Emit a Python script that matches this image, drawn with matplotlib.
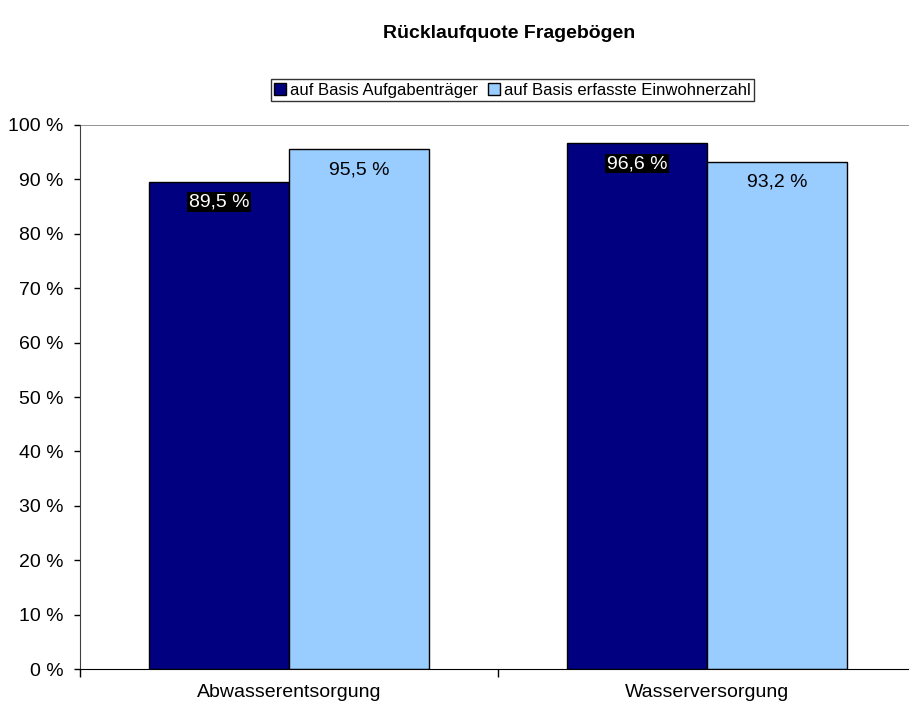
import matplotlib.pyplot as plt
from matplotlib.patches import Patch

# Daten
kategorien = ['Abwasserentsorgung', 'Wasserversorgung']
serien = ['auf Basis Aufgabenträger', 'auf Basis erfasste Einwohnerzahl']
aufgabentraeger = [89.5, 96.6]
einwohnerzahl = [95.5, 93.2]
y_ticks = [0, 10, 20, 30, 40, 50, 60, 70, 80, 90, 100]

plt.rcParams['font.family'] = ['Liberation Sans', 'DejaVu Sans']

dunkel = '#000080'
hell = '#99ccff'

fig = plt.figure(figsize=(9.09, 7.09), dpi=100)
ax = fig.add_axes([0.088, 0.0564, 0.9197, 0.7673])

breite = 0.335
mitten = [0.5, 1.5]
x1 = [m - breite / 2 for m in mitten]
x2 = [m + breite / 2 for m in mitten]

ax.bar(x1, aufgabentraeger, width=breite, color=dunkel, edgecolor='black', linewidth=1)
ax.bar(x2, einwohnerzahl, width=breite, color=hell, edgecolor='black', linewidth=1)

# Werte beschriften
for x, v in zip(x1, aufgabentraeger):
    ax.text(x, v - 3.7, f'{v:.1f} %'.replace('.', ','), ha='center', va='center',
            color='white', fontsize=14,
            bbox=dict(facecolor='black', edgecolor='none', pad=1))
for x, v in zip(x2, einwohnerzahl):
    ax.text(x, v - 3.7, f'{v:.1f} %'.replace('.', ','), ha='center', va='center',
            color='black', fontsize=14)

ax.set_xlim(0, 2)
ax.set_ylim(0, 100)
ax.set_yticks(y_ticks)
ax.set_yticklabels([f'{t} %' for t in y_ticks], fontsize=14)
ax.tick_params(axis='y', direction='out', length=4, width=1, pad=8)

ax.set_xticks(mitten)
ax.set_xticklabels(kategorien, fontsize=14)
ax.set_xticks([0, 1, 2], minor=True)
ax.tick_params(axis='x', which='major', length=0, pad=11)
ax.tick_params(axis='x', which='minor', direction='out', length=6, width=1)

ax.spines['top'].set_visible(False)
ax.spines['right'].set_visible(False)
ax.spines['left'].set_color('#404040')
ax.spines['bottom'].set_color('black')
ax.axhline(100, color='#808080', linewidth=1.2, zorder=0)

fig.text(0.560, 0.953, 'Rücklaufquote Fragebögen', ha='center', va='center',
         fontsize=14, fontweight='bold')

handles = [Patch(facecolor=dunkel, edgecolor='black'),
           Patch(facecolor=hell, edgecolor='black')]
leg = fig.legend(handles, serien, loc='center', bbox_to_anchor=(0.564, 0.873),
                 ncol=2, fontsize=12, frameon=True, fancybox=False,
                 handlelength=0.7, handleheight=0.7, handletextpad=0.25,
                 columnspacing=0.6, borderpad=0.2, borderaxespad=0)
leg.get_frame().set_edgecolor('black')
leg.get_frame().set_linewidth(1)

plt.savefig('out.png', dpi=100)
